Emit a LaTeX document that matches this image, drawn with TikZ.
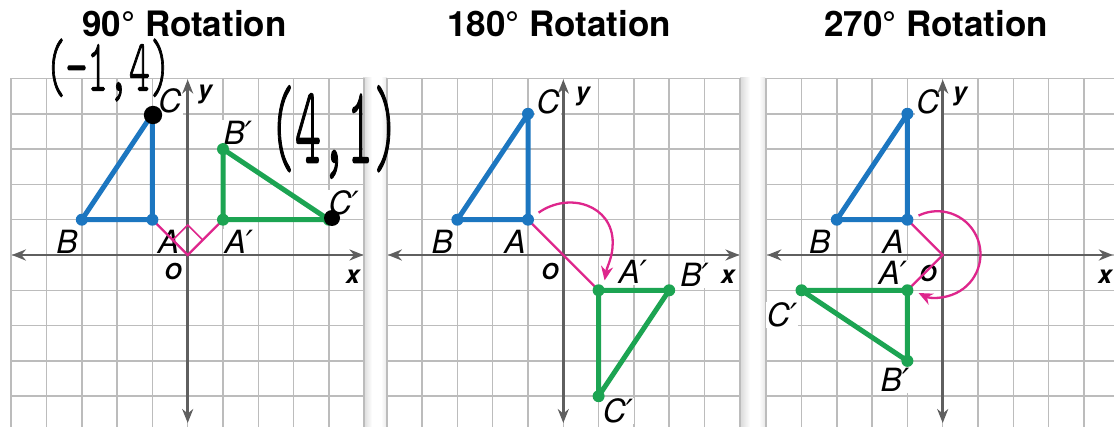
\documentclass[tikz,border=0pt]{standalone}
\usepackage{fontspec}
\setmainfont{TeX Gyre Heros}
\newfontfamily\handfont[FakeBold=1.6]{lmmonolt10-regular.otf}
\newfontfamily\primefont{DejaVu Sans}
\usepackage{graphicx}
\usetikzlibrary{arrows.meta}
\newcommand\prm{{\primefont\itshape ′}}
\definecolor{triblue}{RGB}{28,118,192}
\definecolor{trigreen}{RGB}{28,164,82}
\definecolor{mag}{RGB}{222,38,140}
\definecolor{gridgray}{RGB}{188,188,188}
\definecolor{axisgray}{RGB}{95,95,95}
\tikzset{
  gridline/.style={draw=gridgray, line width=0.75pt},
  axisline/.style={draw=axisgray, line width=1.25pt, {Stealth[length=7pt,width=5.5pt]}-{Stealth[length=7pt,width=5.5pt]}},
  tri/.style={line width=2.5pt, line join=round},
  ptlabel/.style={font=\fontsize{16}{16}\selectfont\itshape, fill=white, inner sep=0.6pt},
  axlabel/.style={font=\fontsize{12.5}{12.5}\selectfont\bfseries\itshape, inner sep=0pt},
  olabel/.style={font=\fontsize{11}{11}\selectfont\bfseries\itshape, inner sep=0pt},
  titlelabel/.style={font=\fontsize{17.5}{17.5}\selectfont\bfseries, anchor=base, inner sep=0pt},
  magline/.style={draw=mag, line width=1.15pt},
  magthin/.style={draw=mag, line width=0.8pt},
  magarrow/.style={draw=mag, line width=1.15pt, -{Stealth[length=7pt,width=6pt]}},
  handnote/.style={inner sep=0pt},
}
\begin{document}
\begin{tikzpicture}[x=0.5pt, y=-0.5pt]
\useasboundingbox (0,0) rectangle (1114,427);
\fill[white] (0,0) rectangle (1114,427);
% panel shadows
\shade[left color=gray!30, right color=white] (363,78) rectangle (372,427);
\shade[left color=white, right color=gray!18] (381,78) rectangle (387,427);
\shade[left color=gray!30, right color=white] (740,78) rectangle (750,427);
\shade[left color=white, right color=gray!18] (759,78) rectangle (765,427);
% titles
\node[titlelabel] (t1) at (184.5,37) {90° Rotation};
\node[titlelabel] (t2) at (559,37) {180° Rotation};
\node[titlelabel] (t3) at (936,37) {270° Rotation};

% ---------------- panel 1 : 90 degrees
\begin{scope}[shift={(187.7,255)}, x=17.65pt, y=17.65pt]
  \draw[gridline, step=1] (-5,-5) grid (5,5);
  \node[ptlabel] (l1C) at (-0.5,4.36) {C};
  \node[axlabel] (l1y) at (0.49,4.55) {y};
  \node[ptlabel] (l1Bp) at (1.42,3.46) {B\prm};
  \node[ptlabel] (l1Cp) at (4.42,1.47) {C\prm};
  \node[ptlabel] (l1B) at (-3.42,0.37) {B};
  \node[ptlabel, fill=none] (l1A) at (-0.54,0.37) {A};
  \node[ptlabel] (l1Ap) at (1.45,0.37) {A\prm};
  \node[olabel] (l1O) at (-0.42,-0.48) {O};
  \node[axlabel] (l1x) at (4.68,-0.62) {x};
  \coordinate (o1) at (0,0);
  \coordinate (x1l) at (-4.98,0); \coordinate (x1r) at (4.98,0);
  \coordinate (y1t) at (0,4.97); \coordinate (y1b) at (0,-4.76);
  \draw[axisline] (x1l) -- (x1r);
  \draw[axisline] (y1b) -- (y1t);
  \coordinate (a1) at (-1,1); \coordinate (b1) at (-3,1); \coordinate (c1) at (-1,4);
  \coordinate (a1p) at (1,1); \coordinate (b1p) at (1,3); \coordinate (c1p) at (4,1);
  \draw[magline] (a1) -- (o1) -- (a1p);
  \draw[magthin] (o1) -- ++(135:0.6) -- ++(45:0.6) -- ++(-45:0.6);
  \draw[tri, triblue] (a1) -- (b1) -- (c1) -- cycle;
  \draw[tri, trigreen] (a1p) -- (b1p) -- (c1p) -- cycle;
  \foreach \p in {a1,b1,c1} \fill[triblue] (\p) circle[radius=3pt];
  \foreach \p in {a1p,b1p,c1p} \fill[trigreen] (\p) circle[radius=3pt];
\end{scope}

% ---------------- panel 2 : 180 degrees
\begin{scope}[shift={(563.3,255)}, x=17.65pt, y=17.65pt]
  \draw[gridline, step=1] (-5,-5) grid (5,5);
  \node[ptlabel] (l2C) at (-0.43,4.33) {C};
  \node[axlabel] (l2y) at (0.55,4.5) {y};
  \node[ptlabel] (l2B) at (-3.43,0.37) {B};
  \node[ptlabel] (l2A) at (-1.37,0.37) {A};
  \node[olabel] (l2O) at (-0.38,-0.48) {O};
  \node[ptlabel] (l2Ap) at (1.97,-0.48) {A\prm};
  \node[ptlabel] (l2Bp) at (3.72,-0.57) {B\prm};
  \node[axlabel] (l2x) at (4.66,-0.62) {x};
  \node[ptlabel] (l2Cp) at (1.55,-4.42) {C\prm};
  \coordinate (o2) at (0,0);
  \coordinate (x2l) at (-4.97,0); \coordinate (x2r) at (4.99,0);
  \coordinate (y2t) at (0,4.97); \coordinate (y2b) at (0,-4.76);
  \draw[axisline] (x2l) -- (x2r);
  \draw[axisline] (y2b) -- (y2t);
  \coordinate (a2) at (-1,1); \coordinate (b2) at (-3,1); \coordinate (c2) at (-1,4);
  \coordinate (a2p) at (1,-1); \coordinate (b2p) at (3,-1); \coordinate (c2p) at (1,-4);
  \coordinate (s2) at (-0.7,1.2); \coordinate (m2) at (1.4,0.35); \coordinate (e2) at (1.17,-0.72);
  \draw[magline] (a2) -- (o2) -- (a2p);
  \draw[magarrow] (s2) to[out=35,in=90,looseness=1.2] (m2) to[out=-90,in=80] (e2);
  \draw[tri, triblue] (a2) -- (b2) -- (c2) -- cycle;
  \draw[tri, trigreen] (a2p) -- (b2p) -- (c2p) -- cycle;
  \foreach \p in {a2,b2,c2} \fill[triblue] (\p) circle[radius=3pt];
  \foreach \p in {a2p,b2p,c2p} \fill[trigreen] (\p) circle[radius=3pt];
\end{scope}

% ---------------- panel 3 : 270 degrees
\begin{scope}[shift={(942.7,255)}, x=17.65pt, y=17.65pt]
  \draw[gridline, step=1] (-5,-5) grid (5,5);
  \node[ptlabel] (l3C) at (-0.42,4.33) {C};
  \node[axlabel] (l3y) at (0.49,4.5) {y};
  \node[ptlabel] (l3B) at (-3.48,0.37) {B};
  \node[ptlabel] (l3A) at (-1.41,0.37) {A};
  \node[ptlabel] (l3Ap) at (-1.41,-0.51) {A\prm};
  \node[olabel] (l3O) at (-0.42,-0.51) {O};
  \node[axlabel] (l3x) at (4.6,-0.62) {x};
  \node[ptlabel] (l3Cp) at (-4.55,-1.7) {C\prm};
  \node[ptlabel] (l3Bp) at (-1.35,-3.54) {B\prm};
  \coordinate (o3) at (0,0);
  \coordinate (x3l) at (-4.97,0); \coordinate (x3r) at (4.82,0);
  \coordinate (y3t) at (0,4.97); \coordinate (y3b) at (0,-4.76);
  \draw[axisline] (x3l) -- (x3r);
  \draw[axisline] (y3b) -- (y3t);
  \coordinate (a3) at (-1,1); \coordinate (b3) at (-3,1); \coordinate (c3) at (-1,4);
  \coordinate (a3p) at (-1,-1); \coordinate (b3p) at (-1,-3); \coordinate (c3p) at (-4,-1);
  \coordinate (k3) at (-0.15,0.02);
  \draw[magline] (a3) -- (o3) -- (a3p);
  \draw[magarrow] (k3) ++(116:1.22) arc[start angle=116, end angle=-116, radius=1.22];
  \draw[tri, triblue] (a3) -- (b3) -- (c3) -- cycle;
  \draw[tri, trigreen] (a3p) -- (b3p) -- (c3p) -- cycle;
  \foreach \p in {a3,b3,c3} \fill[triblue] (\p) circle[radius=3pt];
  \foreach \p in {a3p,b3p,c3p} \fill[trigreen] (\p) circle[radius=3pt];
\end{scope}

% ---------------- handwritten notes
\fill[black] (153,115) circle[radius=4.6pt];
\fill[black] (332,218) circle[radius=4pt];
\node[handnote] (h1) at (108,70) {\scalebox{0.54}[1]{\handfont\fontsize{37}{37}\selectfont (−1,4)}};
\node[handnote] (h2) at (334,132) {\scalebox{0.45}[1]{\handfont\fontsize{55}{55}\selectfont (4,1)}};
\end{tikzpicture}
\end{document}
